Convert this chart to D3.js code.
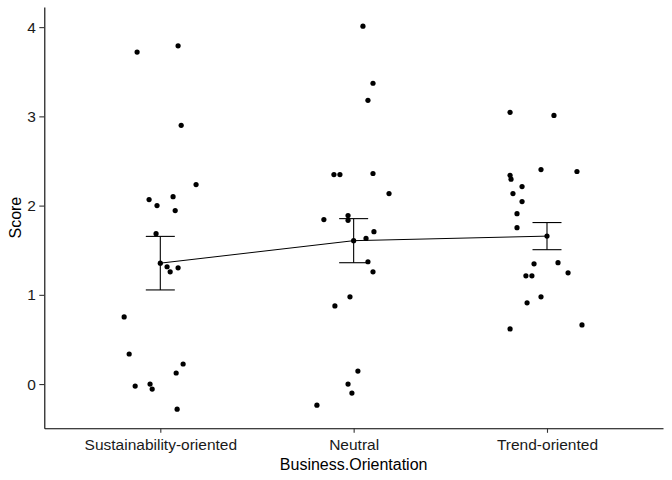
<!DOCTYPE html>
<html>
<head>
<meta charset="utf-8">
<script src="https://cdn.jsdelivr.net/npm/d3@7"></script>
<style>
  body { margin: 0; background: #fff; }
  svg { display: block; font-family: "Liberation Sans", Arial, sans-serif; }
</style>
</head>
<body>
<svg width="672" height="480"></svg>
<script>
// категории по оси X
const categories = ["Sustainability-oriented", "Neutral", "Trend-oriented"];

// значения Score
const scoreSust = [3.72, 3.79, 2.90, 2.236, 2.067, 2.0, 2.10, 1.944, 1.685, 1.315,
                   1.258, 1.303, 0.753, 0.337, -0.022, 0.0, -0.056, 0.124, 0.225, -0.281];
const scoreNeutral = [4.011, 3.371, 3.18, 2.348, 2.348, 2.36, 2.135, 1.888, 1.843, 1.835,
                      1.708, 1.632, 1.371, 1.258, 0.978, 0.876, 0.146, 0.0, -0.101, -0.236];
const scoreTrend = [3.045, 3.011, 2.404, 2.382, 2.34, 2.296, 2.213, 2.135, 2.045, 1.91,
                    1.753, 1.348, 1.36, 1.247, 1.213, 1.213, 0.978, 0.91, 0.618, 0.663];

// горизонтальный джиттер точек (в долях шага категории)
const jitterSust = [-0.120, 0.092, 0.108, 0.185, -0.058, -0.017, 0.066, 0.077, -0.022, 0.035,
                    0.051, 0.092, -0.187, -0.161, -0.130, -0.053, -0.042, 0.082, 0.118, 0.087];
const jitterNeutral = [0.048, 0.100, 0.074, -0.102, -0.071, 0.100, 0.183, -0.029, -0.154, -0.029,
                       0.105, 0.064, 0.074, 0.100, -0.019, -0.097, 0.022, -0.029, -0.009, -0.190];
const jitterTrend = [-0.191, 0.036, -0.031, 0.155, -0.191, -0.186, -0.129, -0.176, -0.129, -0.155,
                     -0.155, -0.067, 0.057, 0.109, -0.109, -0.078, -0.031, -0.103, -0.191, 0.181];

// среднее и стандартная ошибка по группам
const means = [1.355, 1.607, 1.658];
const se = [0.300, 0.247, 0.152];

const yTicks = [0, 1, 2, 3, 4];

const scores = [scoreSust, scoreNeutral, scoreTrend];
const jitters = [jitterSust, jitterNeutral, jitterTrend];

let points = [];
categories.forEach((c, i) => {
    scores[i].forEach((v, j) => points.push({cat: c, value: v, jitter: jitters[i][j]}));
});
const summary = categories.map((c, i) => ({cat: c, mean: means[i], se: se[i]}));

const svg = d3.select("svg");
const area = {left: 44.3, right: 663, top: 7, bottom: 428.3};

// шкалы
const scX = d3.scalePoint()
    .domain(categories)
    .range([area.left, area.right])
    .padding(0.6);
const step = scX.step();

let [lo, hi] = d3.extent(points, d => d.value);
const pad = (hi - lo) * 0.05;
const scY = d3.scaleLinear()
    .domain([lo - pad, hi + pad])
    .range([area.bottom, area.top]);

// оси (сначала tickSize, потом tickSizeOuter, иначе торчат концы)
const axisX = svg.append("g")
    .attr("transform", `translate(0, ${area.bottom})`)
    .call(d3.axisBottom(scX).tickSize(4.5).tickSizeOuter(0).tickPadding(6));
const axisY = svg.append("g")
    .attr("transform", `translate(${area.left}, 0)`)
    .call(d3.axisLeft(scY).tickValues(yTicks).tickFormat(d3.format("d"))
        .tickSize(5).tickSizeOuter(0).tickPadding(3.5));

[axisX, axisY].forEach(g => {
    g.select(".domain").attr("stroke", "#000").attr("stroke-width", 1.1);
    g.selectAll(".tick line").attr("stroke", "#333").attr("stroke-width", 1.1);
    g.selectAll(".tick text")
        .attr("fill", "#1a1a1a")
        .style("font-size", "15.5px")
        .style("font-family", "'Liberation Sans', Arial, sans-serif");
});

// подписи осей
svg.append("text")
    .attr("x", (area.left + area.right) / 2)
    .attr("y", 470)
    .attr("text-anchor", "middle")
    .style("font-size", "16px")
    .text("Business.Orientation");

svg.append("text")
    .attr("transform", `translate(21, ${(area.top + area.bottom) / 2}) rotate(-90)`)
    .attr("text-anchor", "middle")
    .style("font-size", "16px")
    .text("Score");

// точки
svg.selectAll(".dot")
    .data(points)
    .enter()
    .append("circle")
    .attr("class", "dot")
    .attr("r", 2.6)
    .attr("cx", d => scX(d.cat) + d.jitter * step)
    .attr("cy", d => scY(d.value))
    .attr("fill", "#000");

// линия через средние
const lineGenerator = d3.line()
    .x(d => scX(d.cat))
    .y(d => scY(d.mean));
svg.append("path")
    .datum(summary)
    .attr("fill", "none")
    .attr("stroke", "#000")
    .attr("stroke-width", 1)
    .attr("d", lineGenerator);

// планки погрешностей
const half = step * 0.075;
const bars = svg.selectAll(".err")
    .data(summary)
    .enter()
    .append("g")
    .attr("class", "err")
    .attr("stroke", "#000")
    .attr("stroke-width", 1.1);
bars.append("line")
    .attr("x1", d => scX(d.cat)).attr("x2", d => scX(d.cat))
    .attr("y1", d => scY(d.mean + d.se)).attr("y2", d => scY(d.mean - d.se));
bars.append("line")
    .attr("x1", d => scX(d.cat) - half).attr("x2", d => scX(d.cat) + half)
    .attr("y1", d => scY(d.mean + d.se)).attr("y2", d => scY(d.mean + d.se));
bars.append("line")
    .attr("x1", d => scX(d.cat) - half).attr("x2", d => scX(d.cat) + half)
    .attr("y1", d => scY(d.mean - d.se)).attr("y2", d => scY(d.mean - d.se));

// точки средних
svg.selectAll(".mean")
    .data(summary)
    .enter()
    .append("circle")
    .attr("r", 2.6)
    .attr("cx", d => scX(d.cat))
    .attr("cy", d => scY(d.mean))
    .attr("fill", "#000");
</script>
</body>
</html>
